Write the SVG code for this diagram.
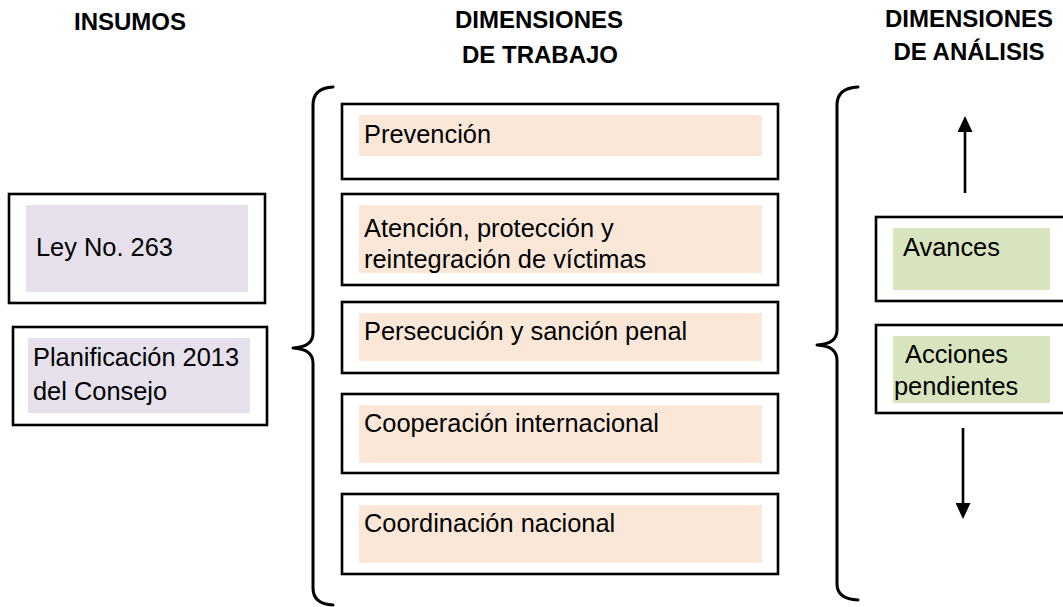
<svg xmlns="http://www.w3.org/2000/svg" width="1063" height="607" viewBox="0 0 1063 607">
<style>
.hdr{font-family:"Liberation Sans",Arial,sans-serif;font-weight:bold;font-size:24px;fill:#000;text-anchor:middle}
.txt{font-family:"Liberation Sans",Arial,sans-serif;font-size:25.4px;fill:#000}
.outer{fill:#fff;stroke:#000;stroke-width:2.6}
.lav{fill:#e5e0ec}
.peach{fill:#fbe7d8}
.green{fill:#d7e4bd}
.brace{fill:none;stroke:#000;stroke-width:3;stroke-linecap:round;stroke-linejoin:round}
.arrow{fill:none;stroke:#000;stroke-width:2.6}
</style>
<defs>
<marker id="ah" markerUnits="userSpaceOnUse" markerWidth="16" markerHeight="15" refX="0" refY="7.5" orient="auto">
<path d="M0,0 L16,7.5 L0,15 z" fill="#000"/>
</marker>
</defs>
<rect width="1063" height="607" fill="#fff"/>
<g id="headers">
<text class="hdr" x="130" y="30">INSUMOS</text>
<text class="hdr" x="539" y="28">DIMENSIONES</text>
<text class="hdr" x="540" y="63">DE TRABAJO</text>
<text class="hdr" x="969" y="27">DIMENSIONES</text>
<text class="hdr" x="969" y="60">DE ANÁLISIS</text>
</g>
<g id="ley">
<rect class="outer" x="9" y="194" width="256" height="109"/>
<rect class="lav" x="26" y="205" width="222" height="87"/>
<text class="txt" x="36" y="256">Ley No. 263</text>
</g>
<g id="planificacion">
<rect class="outer" x="13" y="327" width="254" height="98"/>
<rect class="lav" x="28" y="338" width="222" height="75"/>
<text class="txt" x="33" y="366">Planificación 2013</text>
<text class="txt" x="33" y="400">del Consejo</text>
</g>
<g id="prevencion">
<rect class="outer" x="342" y="104" width="436" height="75"/>
<rect class="peach" x="359" y="115" width="403" height="41"/>
<text class="txt" x="364" y="143">Prevención</text>
</g>
<g id="atencion">
<rect class="outer" x="342" y="194" width="436" height="91"/>
<rect class="peach" x="359" y="205" width="403" height="68"/>
<text class="txt" x="364" y="237">Atención, protección y</text>
<text class="txt" x="364" y="268">reintegración de víctimas</text>
</g>
<g id="persecucion">
<rect class="outer" x="342" y="302" width="436" height="71"/>
<rect class="peach" x="359" y="313" width="403" height="48"/>
<text class="txt" x="364" y="340">Persecución y sanción penal</text>
</g>
<g id="cooperacion">
<rect class="outer" x="342" y="394" width="436" height="79"/>
<rect class="peach" x="359" y="405" width="403" height="58"/>
<text class="txt" x="364" y="432">Cooperación internacional</text>
</g>
<g id="coordinacion">
<rect class="outer" x="342" y="494" width="436" height="80"/>
<rect class="peach" x="359" y="505" width="403" height="58"/>
<text class="txt" x="364" y="532">Coordinación nacional</text>
</g>
<g id="avances">
<rect class="outer" x="876" y="217" width="200" height="84"/>
<rect class="green" x="893" y="228" width="157" height="62"/>
<text class="txt" x="903" y="256">Avances</text>
</g>
<g id="acciones">
<rect class="outer" x="876" y="325" width="200" height="88"/>
<rect class="green" x="893" y="336" width="157" height="67"/>
<text class="txt" x="905" y="363">Acciones</text>
<text class="txt" x="894" y="395">pendientes</text>
</g>
<g id="connectors">
<path class="brace" d="M333,87 Q313,88 313,105 L313,333 Q313,347 293,348 Q313,349 313,363 L313,588 Q313,604 333,605"/>
<path class="brace" d="M858,87 Q837,88 837,105 L837,330 Q837,344 817,345 Q837,346 837,360 L837,584 Q837,599 858,600"/>
<line class="arrow" x1="965" y1="193" x2="965" y2="132" marker-end="url(#ah)"/>
<line class="arrow" x1="963" y1="428" x2="963" y2="503" marker-end="url(#ah)"/>
</g>
</svg>
